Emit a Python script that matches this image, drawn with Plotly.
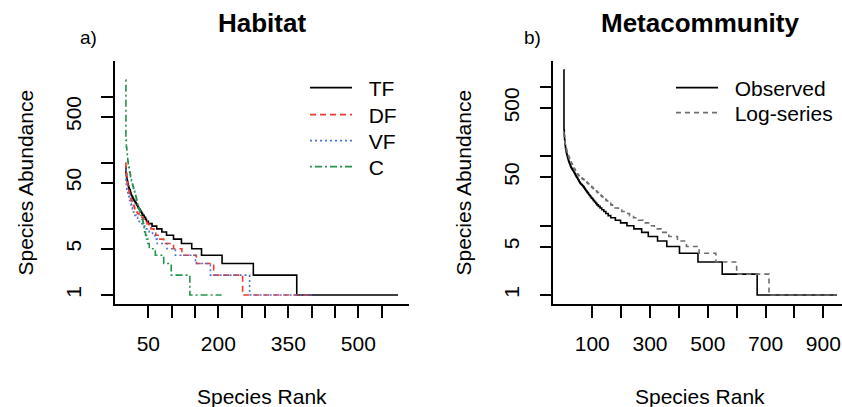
import numpy as np
import plotly.graph_objects as go

# ---------------- Data ----------------
# Rank-abundance curves stored as run-lengths: abundance level, number of species at that level
tf_levels = [87, 70, 62, 56, 52, 48, 45, 42, 40, 39, 37, 35, 33, 32, 31, 30, 29, 28, 27, 26, 25, 24,
             23, 22, 21, 20, 19, 18, 17, 16, 15, 14, 13, 12, 11, 10, 9, 8, 7, 6, 5, 4, 3, 2, 1]
tf_counts = [1, 1, 1, 1, 1, 1, 1, 1, 1, 1, 1, 1, 1, 1, 1, 1, 1, 1, 2, 1, 2, 1,
             2, 1, 2, 2, 2, 2, 2, 3, 3, 2, 4, 8, 10, 11, 10, 15, 17, 22, 21, 44, 67, 93, 218]

df_levels = [100, 80, 68, 58, 50, 45, 41, 38, 35, 33, 31, 29, 28, 27, 26, 25, 24, 23, 22, 21,
             20, 19, 18, 17, 16, 15, 14, 13, 12, 11, 10, 9, 8, 7, 6, 5, 4, 3, 2, 1]
df_counts = [1, 1, 1, 1, 1, 1, 1, 1, 1, 1, 1, 1, 1, 1, 1, 1, 1, 1, 1, 1,
             2, 2, 2, 3, 4, 5, 4, 4, 4, 5, 6, 4, 5, 12, 21, 18, 31, 37, 62, 147]

vf_levels = [80, 55, 45, 40, 37, 35, 33, 31, 29, 27, 25, 24, 23, 22, 21, 20, 19, 18, 17,
             16, 15, 14, 13, 12, 11, 10, 9, 8, 7, 6, 5, 4, 3, 2, 1]
vf_counts = [1, 1, 1, 1, 1, 1, 1, 1, 1, 1, 1, 1, 1, 1, 1, 1, 1, 1, 2,
             3, 3, 3, 4, 5, 6, 7, 7, 5, 5, 21, 18, 43, 32, 84, 141]

c_levels = [1780, 220, 170, 140, 120, 105, 95, 86, 78, 72, 66, 61, 57, 53, 50, 47, 44, 41, 39, 37,
            35, 33, 31, 29, 27, 25, 23, 22, 21, 20, 19, 18, 17, 16, 15, 14, 13, 12, 11, 10,
            9, 8, 7, 6, 5, 4, 3, 2, 1]
c_counts = [1, 1, 1, 1, 1, 1, 1, 1, 1, 1, 1, 1, 1, 1, 1, 1, 1, 1, 1, 1,
            1, 1, 1, 1, 1, 1, 1, 1, 1, 1, 1, 1, 1, 1, 1, 2, 1, 1, 1, 1,
            2, 2, 3, 3, 13, 18, 16, 40, 69]

obs_levels = [1780, 240, 200, 175, 160, 145, 135, 127, 120, 114,
              110, 106, 102, 98, 95, 92, 89, 86, 84, 82, 80, 78, 76, 74, 72, 70, 69, 68, 67, 66,
              65, 64, 63, 62, 61, 60, 59, 58, 57, 56, 55, 54, 53, 52, 51, 50, 49, 48, 47, 46,
              45, 44, 43, 42, 41, 40, 39, 38, 37, 36, 35, 34, 33, 32, 31, 30, 29, 28, 27, 26,
              25, 24, 23, 22, 21, 20, 19, 18, 17, 16, 15, 14, 13, 12, 11, 10, 9, 8, 7, 6,
              5, 4, 3, 2, 1]
obs_counts = [1, 1, 1, 1, 1, 1, 1, 1, 1, 1,
              1, 1, 1, 1, 1, 1, 1, 1, 1, 1, 1, 1, 1, 1, 1, 1, 1, 1, 1, 1,
              1, 1, 1, 1, 1, 1, 1, 1, 1, 1, 1, 1, 1, 1, 1, 2, 1, 1, 1, 2,
              1, 1, 2, 1, 2, 3, 2, 3, 2, 2, 2, 2, 2, 3, 2, 3, 2, 3, 3, 3,
              4, 3, 4, 4, 4, 5, 6, 6, 7, 7, 8, 9, 16, 18, 22, 24, 27, 23, 32, 32,
              44, 64, 84, 121, 277]

ls_levels = [220, 195, 180, 168, 158, 150, 143, 137, 132, 128, 124,
             120, 116, 112, 109, 106, 103, 100, 97, 95, 93, 91, 89, 87, 85, 83, 81, 79, 78, 77, 75,
             74, 73, 71, 70, 68, 67, 66, 65, 64, 63, 62, 61, 60, 59, 57,
             56, 55, 54, 53, 52, 51, 50, 49, 48, 47, 46, 45, 44, 43, 42, 41, 40,
             39, 38, 37, 36, 35, 34, 33, 32, 31, 30, 29, 28, 27, 26, 25, 24, 23, 22, 21, 20,
             19, 18, 17, 16, 15, 14, 13, 12, 11, 10, 9, 8, 7, 6, 5, 4, 3, 2, 1]
ls_counts = [1, 1, 1, 1, 1, 1, 1, 1, 1, 1, 1,
             1, 1, 1, 1, 1, 1, 1, 1, 1, 1, 1, 1, 1, 1, 1, 1, 1, 1, 1, 1,
             1, 1, 1, 1, 1, 1, 1, 1, 1, 1, 1, 1, 1, 1, 1,
             2, 2, 2, 2, 2, 2, 3, 2, 3, 3, 2, 3, 3, 3, 3, 2, 3,
             3, 3, 3, 3, 3, 3, 4, 4, 3, 4, 4, 4, 4, 4, 5, 5, 5, 5, 6, 6,
             9, 11, 12, 13, 14, 14, 16, 17, 19, 20, 23, 27, 30, 31, 44, 58, 72, 112, 232]

# Axis ticks
hab_xticks = [50, 100, 150, 200, 250, 300, 350, 400, 450, 500, 550]
hab_xlabels = ["50", "", "", "200", "", "", "350", "", "", "500", ""]
meta_xticks = [100, 200, 300, 400, 500, 600, 700, 800, 900]
meta_xlabels = ["100", "", "300", "", "500", "", "700", "", "900"]
y_ticks = [1, 5, 10, 50, 100, 500, 1000]
y_labels = ["1", "5", "", "50", "", "500", ""]


def expand(levels, counts):
    ab = np.repeat(np.array(levels, dtype=float), counts)
    rank = np.arange(1, len(ab) + 1)
    return rank, ab


W, H = 842, 407
FONT = "Liberation Sans, Arial, sans-serif"
GAP = "\u00a0\u00a0"

fig = go.Figure()

# name, levels, counts, colour, dash, legend id, legend row centre (px from top)
hab_series = [
    ("TF", tf_levels, tf_counts, "black", "solid", "legend", 88),
    ("DF", df_levels, df_counts, "#EE3B2E", "6px,4px", "legend2", 115),
    ("VF", vf_levels, vf_counts, "#4A72D8", "2px,3px", "legend3", 141),
    ("C", c_levels, c_counts, "#24944C", "2px,3px,7px,3px", "legend4", 167),
]
meta_series = [
    ("Observed", obs_levels, obs_counts, "black", "solid", "legend5", 88),
    ("Log-series", ls_levels, ls_counts, "#6E6E6E", "5px,4px", "legend6", 113),
]

legend_layout = {}
for name, lv, ct, col, dash, lg, yc in hab_series:
    r, a = expand(lv, ct)
    fig.add_trace(go.Scatter(x=r, y=a, mode="lines", name=GAP + name, line_shape="hv",
                             line=dict(color=col, width=1.6, dash=dash),
                             xaxis="x", yaxis="y", legend=lg))
    legend_layout[lg] = dict(x=305 / W, y=1 - yc / H, xanchor="left", yanchor="middle",
                             bgcolor="rgba(0,0,0,0)", borderwidth=0, itemwidth=42,
                             font=dict(size=21, family=FONT, color="black"))
for name, lv, ct, col, dash, lg, yc in meta_series:
    r, a = expand(lv, ct)
    fig.add_trace(go.Scatter(x=r, y=a, mode="lines", name=GAP + name, line_shape="hv",
                             line=dict(color=col, width=1.6, dash=dash),
                             xaxis="x2", yaxis="y2", legend=lg))
    legend_layout[lg] = dict(x=671 / W, y=1 - yc / H, xanchor="left", yanchor="middle",
                             bgcolor="rgba(0,0,0,0)", borderwidth=0, itemwidth=42,
                             font=dict(size=21, family=FONT, color="black"))

ydom = [(H - 304) / H, (H - 61) / H]
axis_common = dict(showline=True, linecolor="black", linewidth=1.5, ticks="outside",
                   ticklen=12, tickwidth=1.5, tickcolor="black", showgrid=False,
                   zeroline=False, tickfont=dict(size=21, family=FONT, color="black"))

fig.update_layout(
    width=W, height=H, margin=dict(l=0, r=0, t=0, b=0),
    paper_bgcolor="white", plot_bgcolor="white",
    font=dict(family=FONT, color="black"),
    xaxis=dict(domain=[115 / W, 409 / W], range=[-21.4, 608.5], anchor="y",
               tickvals=hab_xticks, ticktext=hab_xlabels, ticklabelstandoff=8, **axis_common),
    yaxis=dict(domain=ydom, type="log", range=[-0.136, 3.54], anchor="x",
               tickvals=y_ticks, ticktext=y_labels, tickangle=-90, ticklabelstandoff=12, **axis_common),
    xaxis2=dict(domain=[553.3 / W, 1.0], range=[-35, 964.8], anchor="y2",
                tickvals=meta_xticks, ticktext=meta_xlabels, ticklabelstandoff=8, **axis_common),
    yaxis2=dict(domain=ydom, type="log", range=[-0.13, 3.377], anchor="x2",
                tickvals=y_ticks, ticktext=y_labels, tickangle=-90, ticklabelstandoff=12, **axis_common),
    showlegend=True,
    **legend_layout,
)

annots = [
    dict(text="<b>Habitat</b>", x=262, y=23, size=26),
    dict(text="<b>Metacommunity</b>", x=700, y=23, size=26),
    dict(text="a)", x=88, y=37, size=19),
    dict(text="b)", x=532, y=37, size=19),
    dict(text="Species Rank", x=262, y=396, size=21),
    dict(text="Species Rank", x=700, y=396, size=21),
]
for a in annots:
    fig.add_annotation(text=a["text"], x=a["x"] / W, y=1 - a["y"] / H, xref="paper", yref="paper",
                       showarrow=False, xanchor="center", yanchor="middle",
                       font=dict(size=a["size"], family=FONT, color="black"))
for xc in (25, 463):
    fig.add_annotation(text="Species Abundance", x=xc / W, y=1 - 182.5 / H, xref="paper", yref="paper",
                       showarrow=False, xanchor="center", yanchor="middle", textangle=-90,
                       font=dict(size=21, family=FONT, color="black"))

fig.write_html("out.html", config={"displayModeBar": False},
               post_script="document.body.style.margin='0px';")
